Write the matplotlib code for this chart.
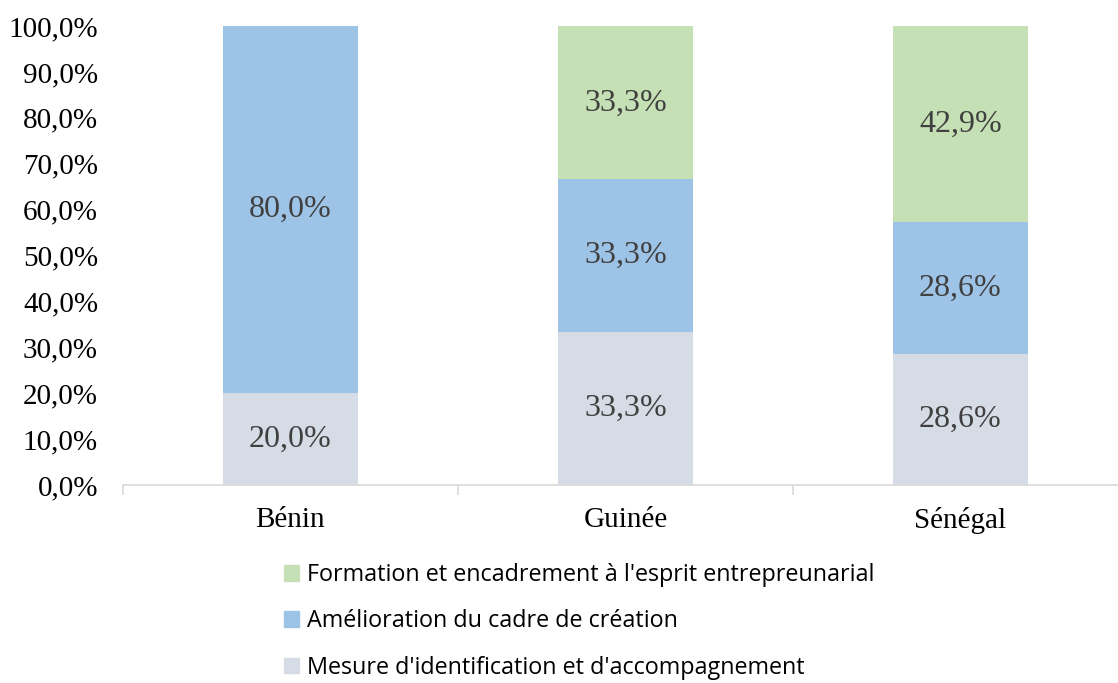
import numpy as np
import matplotlib.pyplot as plt
from matplotlib.patches import Patch

pays = ['Bénin', 'Guinée', 'Sénégal']
mesure = [20.0, 33.3, 28.6]
amelioration = [80.0, 33.3, 28.6]
formation = [0.0, 33.3, 42.9]
series_noms = ["Mesure d'identification et d'accompagnement",
               "Amélioration du cadre de création",
               "Formation et encadrement à l'esprit entrepreunarial"]

c_gris, c_bleu, c_vert = '#D6DCE5', '#9DC3E6', '#C5E0B4'

fig = plt.figure(figsize=(11.18, 6.83), dpi=100)
ax = fig.add_axes([123/1118, 1 - 485/683, 1005/1118, 459/683])

x = np.arange(len(pays))
w = 0.403
bas = np.zeros(len(pays))
for vals, col in [(mesure, c_gris), (amelioration, c_bleu), (formation, c_vert)]:
    vals = np.array(vals)
    ax.bar(x, vals, w, bottom=bas, color=col, zorder=2)
    for xi, b, v in zip(x, bas, vals):
        if v > 0:
            ax.text(xi, b + v / 2, f'{v:.1f}%'.replace('.', ','), ha='center', va='center',
                    fontsize=23, color='#404040', family='Liberation Serif')
    bas += vals

ax.set_xlim(-0.5, 2.5)
ax.set_ylim(0, 100)
ax.set_yticks(np.arange(0, 101, 10))
ax.set_yticklabels([f'{t:.1f}%'.replace('.', ',') for t in np.arange(0, 101, 10)],
                   family='Liberation Serif', fontsize=21)
ax.tick_params(axis='y', length=0, pad=18)
ax.set_xticks(x)
ax.set_xticklabels(pays, family='Liberation Serif', fontsize=21)
ax.set_xticks([-0.5, 0.5, 1.5, 2.5], minor=True)
ax.tick_params(axis='x', which='major', length=0, pad=16)
ax.tick_params(axis='x', which='minor', length=7, color='#D9D9D9', width=1.2)
for s in ['left', 'right', 'top']:
    ax.spines[s].set_visible(False)
ax.spines['bottom'].set_color('#D9D9D9')
ax.spines['bottom'].set_linewidth(1.2)

# légende en colonne, ordre inversé comme dans Excel
handles = [Patch(color=c_vert), Patch(color=c_bleu), Patch(color=c_gris)]
fig.legend(handles, series_noms[::-1], loc='upper left', bbox_to_anchor=(284/1118, 1 - 563/683),
           frameon=False, prop={'family': 'Open Sans', 'size': 16.8},
           handlelength=0.64, handleheight=0.64, handletextpad=0.34, labelspacing=0.96,
           borderpad=0, borderaxespad=0)

fig.savefig('out.png', dpi=100)
